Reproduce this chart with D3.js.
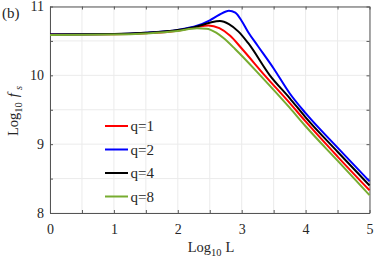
<!DOCTYPE html>
<html>
<head>
<meta charset="utf-8">
<script src="https://cdn.jsdelivr.net/npm/d3@7"></script>
<style>
  body { margin: 0; background: #fff; }
  svg text { font-family: "Liberation Serif", "Times New Roman", serif; fill: #262626; }
</style>
</head>
<body>
<svg id="chart" width="374" height="259"></svg>
<script>
// log10 L vs log10 f_s
var xTicks = [0, 1, 2, 3, 4, 5];
var yTicks = [8, 9, 10, 11];
var seriesNames = ["q=1", "q=2", "q=4", "q=8"];
var seriesColors = ["#ff0000", "#0000ff", "#000000", "#77ac30"];

var q1 = [[0, 10.593], [1, 10.598], [1.5, 10.613], [2.0, 10.648], [2.3, 10.705], [2.48, 10.725], [2.65, 10.685], [2.82, 10.575], [3.0, 10.39], [3.36, 10.0], [3.75, 9.6], [4.0, 9.33], [4.5, 8.82], [5.0, 8.33]];
var q2 = [[0, 10.594], [1, 10.6], [1.5, 10.62], [2.0, 10.66], [2.3, 10.72], [2.5, 10.8], [2.65, 10.88], [2.8, 10.94], [2.9, 10.91], [3.0, 10.79], [3.1, 10.63], [3.25, 10.43], [3.5, 10.1], [3.75, 9.74], [4.0, 9.45], [4.5, 8.95], [5.0, 8.46]];
var q4 = [[0, 10.594], [1, 10.6], [1.5, 10.618], [2.0, 10.658], [2.3, 10.71], [2.5, 10.765], [2.66, 10.79], [2.8, 10.745], [2.95, 10.635], [3.1, 10.47], [3.44, 10.0], [3.75, 9.67], [4.0, 9.39], [4.5, 8.89], [5.0, 8.4]];
var q8 = [[0, 10.585], [1, 10.592], [1.5, 10.608], [2.0, 10.643], [2.3, 10.683], [2.45, 10.678], [2.6, 10.62], [2.71, 10.545], [2.9, 10.38], [3.29, 10.0], [3.75, 9.53], [4.0, 9.26], [4.5, 8.76], [5.0, 8.26]];
var seriesData = [q1, q2, q4, q8];

var svg = d3.select("#chart");
var x = d3.scaleLinear().domain([0, 5]).range([50, 369.5]);
var y = d3.scaleLinear().domain([8, 11]).range([213, 6.5]);

var halfX = d3.range(0, 5.01, 0.5);
var halfY = d3.range(8, 11.01, 0.5);

// grid
var grid = svg.append("g").attr("stroke", "#ebebeb").attr("stroke-width", 1);
halfX.forEach(function(v) {
    grid.append("line").attr("x1", x(v)).attr("x2", x(v)).attr("y1", y(8)).attr("y2", y(11));
});
halfY.forEach(function(v) {
    grid.append("line").attr("x1", x(0)).attr("x2", x(5)).attr("y1", y(v)).attr("y2", y(v));
});

// axes (ticks inside, box on)
function fmt(v) { return Number.isInteger(v) ? String(v) : ""; }
var axBottom = svg.append("g").attr("transform", "translate(0," + y(8) + ")")
    .call(d3.axisBottom(x).tickValues(halfX).tickFormat(fmt).tickSizeInner(-3).tickSizeOuter(0).tickPadding(11));
var axTop = svg.append("g").attr("transform", "translate(0," + y(11) + ")")
    .call(d3.axisTop(x).tickValues(halfX).tickFormat("").tickSizeInner(-3).tickSizeOuter(0));
var axLeft = svg.append("g").attr("transform", "translate(" + x(0) + ",0)")
    .call(d3.axisLeft(y).tickValues(halfY).tickFormat(fmt).tickSizeInner(-3).tickSizeOuter(0).tickPadding(6));
var axRight = svg.append("g").attr("transform", "translate(" + x(5) + ",0)")
    .call(d3.axisRight(y).tickValues(halfY).tickFormat("").tickSizeInner(-3).tickSizeOuter(0));

[axBottom, axTop, axLeft, axRight].forEach(function(a) {
    a.selectAll("path, line").attr("stroke", "#555");
    a.selectAll("text").attr("font-size", 14).attr("fill", "#262626");
});

// curves
var line = d3.line()
    .x(function(d) { return x(d[0]); })
    .y(function(d) { return y(d[1]); })
    .curve(d3.curveMonotoneX);

seriesData.forEach(function(s, i) {
    svg.append("path")
        .datum(s)
        .attr("fill", "none")
        .attr("stroke", seriesColors[i])
        .attr("stroke-width", 2)
        .attr("d", line);
});

// legend
var legend = svg.append("g");
seriesNames.forEach(function(n, i) {
    var ly = 126 + i * 23.5;
    legend.append("line").attr("x1", 105).attr("x2", 128).attr("y1", ly).attr("y2", ly)
        .attr("stroke", seriesColors[i]).attr("stroke-width", 2);
    legend.append("text").attr("x", 130.5).attr("y", ly + 5).attr("font-size", 15).text(n);
});

// axis labels
var xl = svg.append("text").attr("x", 211).attr("y", 251.5).attr("text-anchor", "middle").attr("font-size", 14.5);
xl.append("tspan").text("Log");
xl.append("tspan").attr("font-size", 10.5).attr("dy", 4).text("10");
xl.append("tspan").attr("dy", -4).attr("dx", 4).text("L");

var yl = svg.append("text").attr("transform", "translate(18,111) rotate(-90)").attr("text-anchor", "middle").attr("font-size", 14.5);
yl.append("tspan").text("Log");
yl.append("tspan").attr("font-size", 10.5).attr("dy", 4).text("10");
yl.append("tspan").attr("dy", -4).attr("dx", 5).attr("font-style", "italic").text("f");
yl.append("tspan").attr("font-size", 10.5).attr("dy", 4).attr("dx", 3).attr("font-style", "italic").text("s");

svg.append("text").attr("x", 2).attr("y", 18).attr("font-size", 15).text("(b)");
</script>
</body>
</html>
